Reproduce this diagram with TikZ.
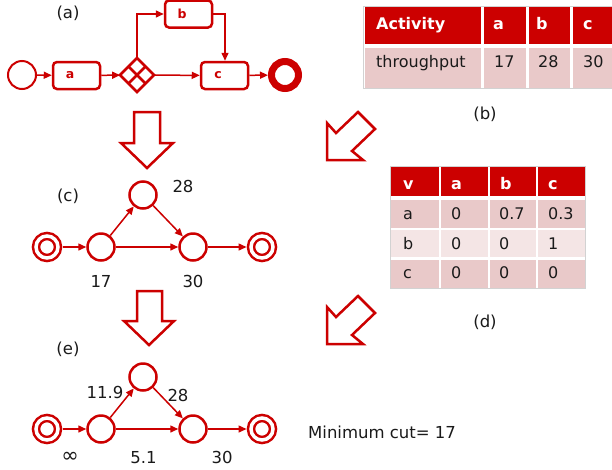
\documentclass[tikz,border=0pt]{standalone}
\usepackage{fontspec}
\setmainfont{DejaVu Sans}
\usetikzlibrary{arrows.meta,shapes.geometric,calc}
\definecolor{bred}{HTML}{CC0000}
\definecolor{rowpink}{HTML}{E9C9C9}
\definecolor{rowlight}{HTML}{F4E5E5}
\definecolor{ink}{HTML}{1A1A1A}
\begin{document}
\begin{tikzpicture}[x=1pt,y=-1pt,
  lbl/.style={inner sep=0pt, text=ink, font=\fontsize{16.5}{19}\selectfont},
  num/.style={lbl, anchor=base},
  cell/.style={inner sep=0pt, anchor=base west, font=\fontsize{16}{18}\selectfont, text=ink},
  headcell/.style={cell, text=white, font=\fontsize{16}{18}\selectfont\bfseries},
  task/.style={draw=bred, line width=2.5pt, rounded corners=4pt, minimum width=47pt,
    minimum height=27pt, inner sep=0pt, outer sep=1.25pt},
  tasklabel/.style={font=\fontsize{12.5}{14}\selectfont\bfseries, text=bred, inner sep=0pt},
  flow/.style={draw=bred, line width=1.5pt, -{Triangle[length=8pt,width=7pt]}},
  vertex/.style={circle, draw=bred, line width=2.5pt, minimum size=27pt, inner sep=0pt},
  terminal/.style={circle, draw=bred, line width=2.5pt, double=white, double distance=3.5pt,
    minimum size=22pt, inner sep=0pt, outer sep=4.5pt},
  bigarrow/.style={draw=bred, line width=2.5pt, fill=white, line join=miter}
]
\useasboundingbox (0,0) rectangle (612,469);
\fill[white] (0,0) rectangle (612,469);

% ---------- (a) process model ----------
\node[lbl] (la) at (68,13) {(a)};
\node[circle, draw=bred, line width=2pt, minimum size=28pt, inner sep=0pt] (st) at (22,75) {};
\node[task, label={[tasklabel, xshift=-6.5pt]center:a}] (ta) at (76.5,75.5) {};
\node[diamond, draw=bred, line width=2.5pt, minimum width=34pt, minimum height=34pt,
  aspect=1, inner sep=0pt, outer sep=0pt] (gw) at (137,75) {};
\draw[bred, line width=2.5pt] ($(gw.north)!0.5!(gw.west)$) -- ($(gw.south)!0.5!(gw.east)$);
\draw[bred, line width=2.5pt] ($(gw.north)!0.5!(gw.east)$) -- ($(gw.south)!0.5!(gw.west)$);
\node[task, label={[tasklabel, xshift=-6.5pt]center:b}] (tb) at (188.5,14) {};
\node[task, label={[tasklabel, xshift=-6.5pt]center:c}] (tc) at (224.5,75.5) {};
\node[circle, draw=bred, line width=7pt, minimum size=27pt, inner sep=0pt, outer sep=3.5pt] (en) at (285,75) {};
\coordinate (gwup) at (137,14);
\coordinate (bright) at (225,14);
\draw[flow] (st) -- (ta);
\draw[flow] (ta) -- (gw);
\draw[flow] (gw) -- (tc);
\draw[flow] (gw.north) -- (gwup) -- (tb.west);
\draw[flow] (tb.east) -- (bright) -- (tc.north -| bright);
\draw[flow] (tc) -- (en);

% ---------- (b) throughput table ----------
\draw[gray!35, line width=0.8pt] (363.5,6.5) rectangle (612,88.5);
\fill[bred] (364.5,7) rectangle (481,43.5);
\fill[bred] (483.5,7) rectangle (526,43.5);
\fill[bred] (528.5,7) rectangle (570,43.5);
\fill[bred] (573,7) rectangle (612,43.5);
\fill[rowpink] (364.5,47.5) rectangle (481,87.5);
\fill[rowpink] (483.5,47.5) rectangle (526,87.5);
\fill[rowpink] (528.5,47.5) rectangle (570,87.5);
\fill[rowpink] (573,47.5) rectangle (612,87.5);
\node[headcell] (bh0) at (376,29) {Activity};
\node[headcell] (bh1) at (493,29) {a};
\node[headcell] (bh2) at (536,29) {b};
\node[headcell] (bh3) at (583,29) {c};
\node[cell] (br0) at (376,67) {throughput};
\node[cell] (br1) at (494,67) {17};
\node[cell] (br2) at (538,67) {28};
\node[cell] (br3) at (583,67) {30};
\node[lbl] (lb) at (485,114) {(b)};

% ---------- transition arrows ----------
\draw[bigarrow] (134,112) -- (160,112) -- (160,143) -- (173,143) -- (147,168) -- (121,143) -- (134,143) -- cycle;
\draw[bigarrow] (327,160) -- (363,160) -- (352,151) -- (375,129) -- (358,112) -- (336,133) -- (327,123) -- cycle;
\draw[bigarrow] (137,291) -- (162,291) -- (162,321) -- (174,321) -- (149,345) -- (124,321) -- (137,321) -- cycle;
\draw[bigarrow] (327,344) -- (363,344) -- (352,335) -- (375,313) -- (358,296) -- (336,317) -- (327,307) -- cycle;

% ---------- (c) flow network with throughputs ----------
\node[lbl] (lc) at (68,196) {(c)};
\node[terminal] (cs) at (47,247) {};
\node[vertex] (ca) at (101,247) {};
\node[vertex] (cb) at (143,195) {};
\node[vertex] (cc) at (193,247) {};
\node[terminal] (ct) at (262,247) {};
\draw[flow] (cs) -- (ca);
\draw[flow] (ca) -- (cb);
\draw[flow] (cb) -- (cc);
\draw[flow] (ca) -- (cc);
\draw[flow] (cc) -- (ct);
\node[num] (c28) at (183,192) {28};
\node[num] (c17) at (101,287) {17};
\node[num] (c30) at (193,287) {30};

% ---------- (d) transition probabilities ----------
\draw[gray!35, line width=0.8pt] (390.5,166.5) rectangle (585.5,288.5);
\fill[bred] (391,167) rectangle (439,196);
\fill[bred] (441,167) rectangle (488,196);
\fill[bred] (489.5,167) rectangle (536,196);
\fill[bred] (537.5,167) rectangle (585,196);
\foreach \ya/\yb/\col in {199.5/227.5/rowpink, 229.5/257/rowlight, 259.5/288/rowpink}{
  \fill[\col] (391,\ya) rectangle (439,\yb);
  \fill[\col] (441,\ya) rectangle (488,\yb);
  \fill[\col] (489.5,\ya) rectangle (536,\yb);
  \fill[\col] (537.5,\ya) rectangle (585,\yb);
}
\node[headcell] (dh0) at (403,189) {v};
\node[headcell] (dh1) at (451,189) {a};
\node[headcell] (dh2) at (500,189) {b};
\node[headcell] (dh3) at (548,189) {c};
\node[cell] (d10) at (403,219) {a};
\node[cell] (d11) at (451,219) {0};
\node[cell] (d12) at (499,219) {0.7};
\node[cell] (d13) at (548,219) {0.3};
\node[cell] (d20) at (403,249) {b};
\node[cell] (d21) at (451,249) {0};
\node[cell] (d22) at (499,249) {0};
\node[cell] (d23) at (548,249) {1};
\node[cell] (d30) at (403,278) {c};
\node[cell] (d31) at (451,278) {0};
\node[cell] (d32) at (499,278) {0};
\node[cell] (d33) at (548,278) {0};
\node[lbl] (ld) at (485,322) {(d)};

% ---------- (e) capacities and minimum cut ----------
\node[lbl] (le) at (68,349) {(e)};
\node[terminal] (es) at (47,429) {};
\node[vertex] (ea) at (101,429) {};
\node[vertex] (eb) at (143,377) {};
\node[vertex] (ec) at (193,429) {};
\node[terminal] (et) at (262,429) {};
\draw[flow] (es) -- (ea);
\draw[flow] (ea) -- (eb);
\draw[flow] (eb) -- (ec);
\draw[flow] (ea) -- (ec);
\draw[flow] (ec) -- (et);
\node[num] (e119) at (105,398) {11.9};
\node[num] (e28) at (178,401) {28};
\node[lbl, font=\fontsize{21}{22}\selectfont] (einf) at (70,457) {∞};
\node[num] (e51) at (143.5,463) {5.1};
\node[num] (e30) at (222,463) {30};
\node[lbl, anchor=base west] (mc) at (308,438) {Minimum cut= 17};
\end{tikzpicture}
\end{document}
